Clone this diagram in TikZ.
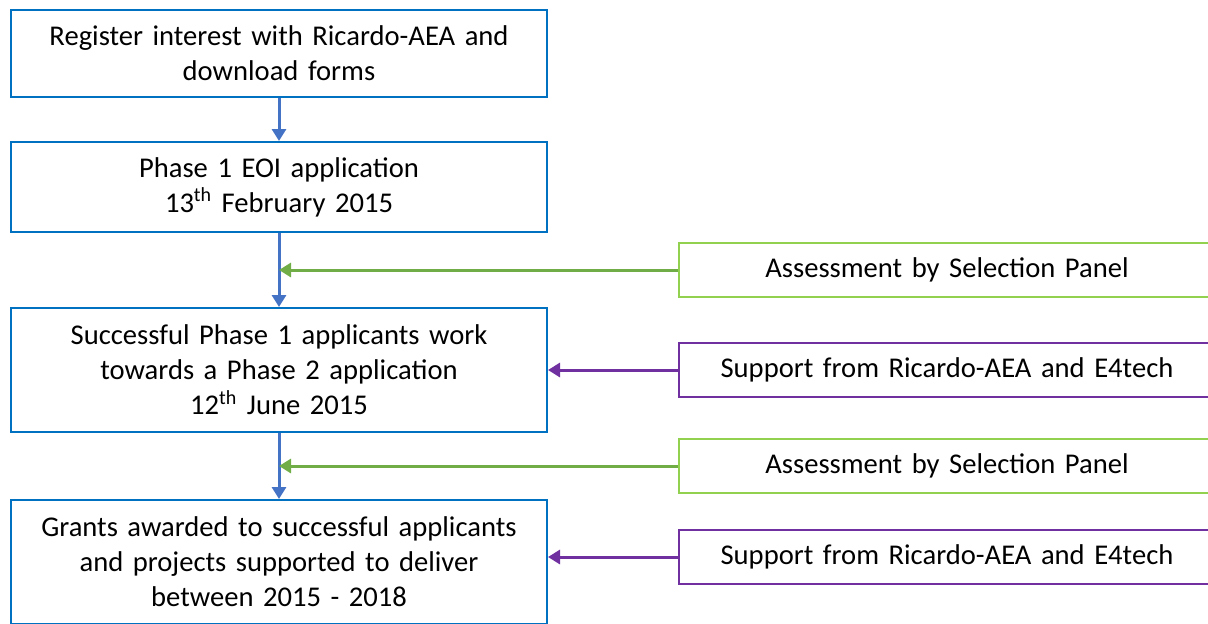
\documentclass[tikz,border=0pt]{standalone}
\usepackage{fontspec}
\setmainfont{Carlito}
\usetikzlibrary{positioning, arrows.meta}
\definecolor{stageblue}{RGB}{0,112,192}
\definecolor{flowblue}{RGB}{68,114,196}
\definecolor{panelgreen}{RGB}{146,208,80}
\definecolor{panelarrow}{RGB}{112,173,71}
\definecolor{supportpurple}{RGB}{112,48,160}
\tikzset{node distance=22pt, % Gap between boxes, overridden where needed
every node/.style={font=\fontsize{14.3}{17.5}\selectfont},
stage/.style={ % Boxes of the main column
draw=stageblue, line width=1pt,
minimum width=268pt, text width=250pt, align=center},
side/.style={ % Boxes on the right hand side
line width=1pt, minimum width=268pt, minimum height=27pt,
text width=250pt, align=center},
flow/.style={ % Arrows down the main column
draw=flowblue, line width=1.5pt, -{Triangle[length=6pt, width=7pt]}},
feed/.style={ % Arrows coming in from the side
line width=1.5pt, -{Triangle[length=6pt, width=7pt]}}}

\begin{document}
\begin{tikzpicture}

    \clip (-139.5pt,26.75pt) rectangle (464.5pt,-284.75pt);
    \useasboundingbox (-139.5pt,26.75pt) rectangle (464.5pt,-284.75pt);

    \node[stage, minimum height=43.5pt] (reg) {Register interest with Ricardo-AEA and\\download forms};
    \node[stage, minimum height=45pt, below=21.5pt of reg] (eoi) {Phase 1 EOI application\\13\textsuperscript{th} February 2015};
    \node[stage, minimum height=62pt, below=37pt of eoi] (prog) {Successful Phase 1 applicants work\\towards a Phase 2 application\\12\textsuperscript{th} June 2015};
    \node[stage, minimum height=62pt, below=33pt of prog] (grant) {Grants awarded to successful applicants\\and projects supported to deliver\\between 2015 - 2018};

    \node[side, draw=supportpurple, right=65pt of prog] (sup1) {Support from Ricardo-AEA and E4tech};
    \node[side, draw=panelgreen, above=22pt of sup1] (assess1) {Assessment by Selection Panel};
    \node[side, draw=panelgreen, below=20pt of sup1] (assess2) {Assessment by Selection Panel};
    \node[side, draw=supportpurple, below=17.5pt of assess2] (sup2) {Support from Ricardo-AEA and E4tech};

    \draw[flow] (reg) -- (eoi);
    \draw[flow] (eoi) -- (prog);
    \draw[flow] (prog) -- (grant);

    \draw[feed, panelarrow] (assess1.west) -- (assess1.west -| eoi.south);
    \draw[feed, panelarrow] (assess2.west) -- (assess2.west -| prog.south);
    \draw[feed, supportpurple] (sup1) -- (prog);
    \draw[feed, supportpurple] (sup2.west) -- (sup2.west -| grant.east);

\end{tikzpicture}
\end{document}
